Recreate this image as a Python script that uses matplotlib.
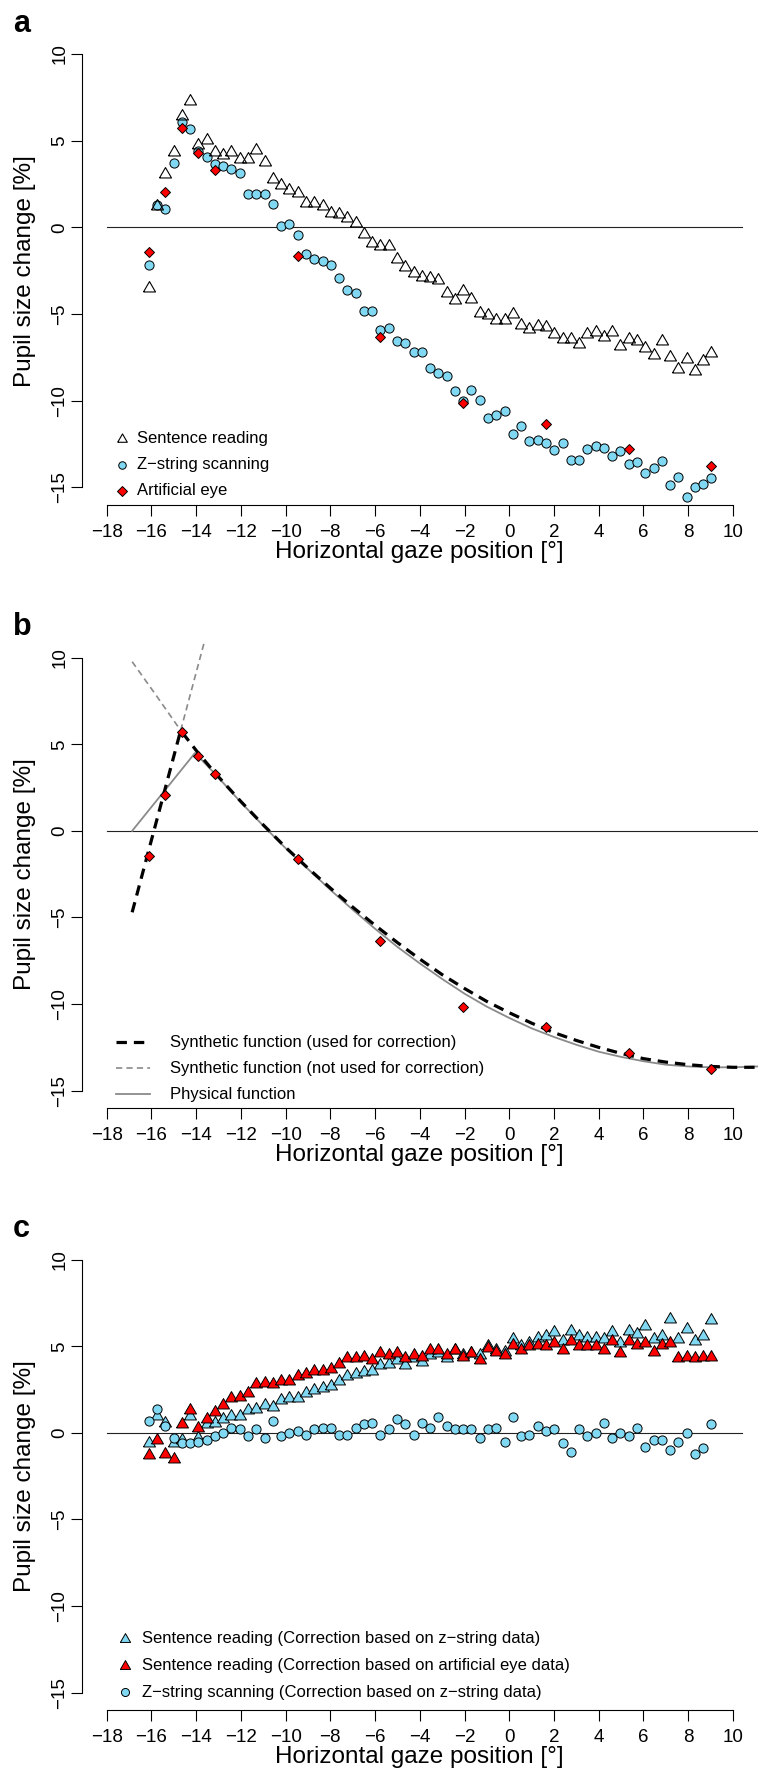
import numpy as np
import matplotlib.pyplot as plt
from matplotlib.lines import Line2D

plt.rcParams['font.family'] = ['Liberation Sans', 'DejaVu Sans']
plt.rcParams['lines.scale_dashes'] = False

W, H = 765, 1773
DPI = 100

# bin centres of horizontal gaze position [deg]
gaze = [-16.12, -15.75, -15.38, -15.01, -14.64, -14.27, -13.90, -13.53, -13.16, -12.79,
        -12.42, -12.05, -11.68, -11.31, -10.94, -10.57, -10.20, -9.83, -9.46, -9.09,
        -8.72, -8.35, -7.98, -7.61, -7.24, -6.87, -6.50, -6.13, -5.76, -5.39,
        -5.02, -4.65, -4.28, -3.91, -3.54, -3.17, -2.80, -2.43, -2.06, -1.69,
        -1.32, -0.95, -0.58, -0.21, 0.16, 0.53, 0.90, 1.27, 1.64, 2.01,
        2.38, 2.75, 3.12, 3.49, 3.86, 4.23, 4.60, 4.97, 5.34, 5.71,
        6.08, 6.45, 6.82, 7.19, 7.56, 7.93, 8.30, 8.67, 9.04]

# panel a: raw pupil size change [%]
sentence = [-3.52, 1.22, 3.09, 4.37, 6.40, 7.27, 4.74, 5.03, 4.37, 4.18,
            4.37, 3.93, 3.93, 4.45, 3.79, 2.77, 2.42, 2.13, 1.99, 1.41,
            1.43, 1.24, 0.85, 0.75, 0.56, 0.27, -0.41, -0.93, -1.08, -1.08,
            -1.80, -2.28, -2.63, -2.86, -2.92, -3.02, -3.79, -4.18, -3.68, -4.14,
            -4.95, -5.05, -5.34, -5.34, -5.00, -5.62, -5.88, -5.71, -5.78, -6.13,
            -6.42, -6.42, -6.71, -6.13, -6.03, -6.32, -6.03, -6.87, -6.42, -6.56,
            -6.94, -7.39, -6.56, -7.48, -8.16, -7.58, -8.30, -7.72, -7.25]
zstring = [-2.17, 1.28, 1.03, 3.73, 6.09, 5.67, 4.40, 4.06, 3.64, 3.54,
           3.35, 3.15, 1.90, 1.95, 1.93, 1.32, 0.10, 0.19, -0.43, -1.56,
           -1.82, -1.95, -2.15, -2.92, -3.64, -3.79, -4.85, -4.85, -5.92, -5.82,
           -6.56, -6.65, -7.21, -7.21, -8.14, -8.43, -8.59, -9.44, -10.00, -9.36,
           -9.94, -11.00, -10.83, -10.61, -11.90, -11.48, -12.31, -12.25, -12.45, -12.85,
           -12.42, -13.44, -13.44, -12.78, -12.64, -12.72, -13.19, -12.88, -13.67, -13.54,
           -14.20, -13.87, -13.48, -14.88, -14.41, -15.57, -14.97, -14.80, -14.49]
eye_x = [-16.12, -15.38, -14.64, -13.90, -13.16, -9.46, -5.76, -2.06, 1.64, 5.34, 9.04]
eye_y = [-1.45, 2.05, 5.71, 4.31, 3.29, -1.64, -6.34, -10.14, -11.33, -12.80, -13.77]

# panel b: fitted functions
steep_x = [-16.86, -14.69, -13.60]
steep_y = [-4.70, 5.80, 11.07]
decay_x = [-16.86, -15.80, -14.69, -14.00, -13.16, -12.00, -11.00, -10.00, -9.00, -8.00,
           -7.00, -6.00, -5.00, -4.00, -3.00, -2.00, -1.00, 0.00, 1.00, 2.00,
           3.00, 4.00, 5.00, 6.00, 7.00, 8.00, 9.00, 10.00, 11.12]
decay_y = [9.77, 7.85, 5.80, 4.65, 3.35, 1.70, 0.35, -0.95, -2.15, -3.30,
           -4.40, -5.45, -6.45, -7.40, -8.30, -9.10, -9.85, -10.50, -11.10, -11.65,
           -12.10, -12.50, -12.85, -13.15, -13.35, -13.50, -13.60, -13.65, -13.65]
phys_x = [-16.86, -14.05, -13.16, -12.00, -11.00, -10.00, -9.00, -8.00, -7.00, -6.00,
          -5.00, -4.00, -3.00, -2.00, -1.00, 0.00, 1.00, 2.00, 3.00, 4.00,
          5.00, 6.00, 7.00, 8.00, 9.00, 10.00, 11.12]
phys_y = [0.00, 4.50, 3.30, 1.65, 0.30, -1.00, -2.20, -3.40, -4.55, -5.65,
          -6.70, -7.65, -8.55, -9.40, -10.15, -10.80, -11.40, -11.90, -12.35, -12.75,
          -13.05, -13.30, -13.50, -13.60, -13.65, -13.65, -13.60]

# panel c: corrected pupil size change [%]
sr_zcorr = [-0.6, 1.0, 0.6, -0.6, -0.4, 1.0, -0.3, 0.5, 0.6, 0.8,
            1.0, 1.0, 1.3, 1.4, 1.6, 1.5, 1.9, 2.0, 2.0, 2.3,
            2.5, 2.6, 2.7, 3.0, 3.3, 3.4, 3.5, 3.6, 3.9, 4.0,
            4.2, 3.9, 4.3, 4.1, 4.5, 4.6, 4.3, 4.8, 4.5, 4.6,
            4.5, 5.0, 4.8, 4.7, 5.4, 5.0, 5.2, 5.5, 5.6, 5.8,
            5.3, 5.9, 5.6, 5.5, 5.5, 5.4, 5.8, 5.2, 5.9, 5.7,
            6.2, 5.4, 5.6, 6.6, 5.4, 6.0, 5.3, 5.6, 6.5]
sr_eyecorr = [-1.3, -0.4, -1.2, -1.5, 0.5, 1.3, 0.3, 0.8, 1.2, 1.6,
              2.0, 2.1, 2.3, 2.8, 2.9, 2.8, 3.0, 3.0, 3.3, 3.4,
              3.6, 3.6, 3.7, 4.0, 4.3, 4.3, 4.4, 4.2, 4.6, 4.5,
              4.6, 4.3, 4.5, 4.4, 4.8, 4.8, 4.5, 4.8, 4.4, 4.6,
              4.2, 4.9, 4.7, 4.5, 5.1, 4.8, 5.0, 5.1, 5.0, 5.2,
              4.8, 5.3, 5.0, 5.0, 5.0, 4.8, 5.3, 4.6, 5.3, 5.1,
              5.2, 4.7, 5.1, 5.2, 4.3, 4.4, 4.3, 4.4, 4.4]
zs_zcorr = [0.7, 1.4, 0.4, -0.3, -0.6, -0.6, -0.5, -0.4, -0.2, 0.0,
            0.3, 0.2, -0.2, 0.2, -0.3, 0.7, -0.2, 0.0, 0.1, -0.1,
            0.2, 0.3, 0.3, -0.1, -0.1, 0.3, 0.5, 0.6, -0.1, 0.2,
            0.8, 0.5, -0.1, 0.6, 0.3, 0.9, 0.4, 0.2, 0.2, 0.2,
            -0.3, 0.2, 0.3, -0.5, 0.9, -0.2, -0.1, 0.4, 0.1, 0.2,
            -0.6, -1.1, 0.2, -0.2, 0.0, 0.6, -0.3, 0.0, -0.2, 0.3,
            -0.8, -0.4, -0.4, -1.0, -0.5, 0.0, -1.2, -0.9, 0.5]

CYAN = '#80d8f2'
RED = '#ff0000'
GREY = '#8a8a8a'
TRI = [(-1, -0.577), (1, -0.577), (0, 1.155), (-1, -0.577)]
TRI_MS = 10.0
CIRC_MS = 6.6
DIAM_MS = 5.4

fig = plt.figure(figsize=(W / DPI, H / DPI), dpi=DPI)


def panel(top, bottom, left=81.6, right=758.0):
    ax = fig.add_axes([left / W, 1 - bottom / H, (right - left) / W, (bottom - top) / H])
    ax.set_xlim(-19.12, 11.12)
    ax.set_ylim(-16, 11)
    for s in ['top', 'right']:
        ax.spines[s].set_visible(False)
    ax.spines['bottom'].set_bounds(-18, 10)
    ax.spines['left'].set_bounds(-15, 10)
    for s in ['bottom', 'left']:
        ax.spines[s].set_linewidth(0.8)
    ax.set_xticks(np.arange(-18, 11, 2))
    ax.set_yticks(np.arange(-15, 11, 5))
    ax.tick_params(length=7.7, width=0.8, labelsize=13.5)
    ax.tick_params(axis='x', pad=6)
    ax.tick_params(axis='y', pad=2, labelrotation=90)
    for lab in ax.get_yticklabels():
        lab.set_va('center')
    ax.set_xlabel('Horizontal gaze position [°]', fontsize=17.5)
    ax.set_ylabel('Pupil size change [%]', fontsize=17.5)
    ax.xaxis.set_label_coords(0.5, -47 / (bottom - top))
    ax.xaxis.label.set_va('center')
    ax.yaxis.set_label_coords(-(left - 25) / (right - left), 0.5)
    ax.yaxis.label.set_va('center')
    return ax


def fy(py):
    return 1 - py / H


def legend_rows(rows, x_handle, x_text, y0, dy, fontsize=12):
    for k, (kw, label) in enumerate(rows):
        y = fy(y0 + k * dy)
        if 'xs' in kw:
            kw = dict(kw)
            xs = kw.pop('xs')
            fig.add_artist(Line2D([xs[0] / W, xs[1] / W], [y, y], transform=fig.transFigure, **kw))
        else:
            fig.add_artist(Line2D([x_handle / W], [y], transform=fig.transFigure, linestyle='none', **kw))
        fig.text(x_text / W, y, label, va='center', ha='left', fontsize=fontsize)


circ = dict(marker='o', ms=CIRC_MS, mfc=CYAN, mec='black', mew=0.7)
diam = dict(marker='D', ms=DIAM_MS, mfc=RED, mec='black', mew=0.7)
cyan_tri = dict(marker=TRI, ms=TRI_MS, mfc=CYAN, mec='black', mew=0.7)
red_tri = dict(marker=TRI, ms=TRI_MS, mfc=RED, mec='black', mew=0.7)

# ---- panel a
ax = panel(36.7, 504.6)
ax.plot([-18, 10.4], [0, 0], color='#222222', lw=0.8)
ax.plot(gaze, zstring, linestyle='none', **circ)
ax.plot(gaze, sentence, linestyle='none', marker=TRI, ms=TRI_MS, mfc='none', mec='black', mew=0.8)
ax.plot(eye_x, eye_y, linestyle='none', **diam)
legend_rows([(dict(marker=TRI, ms=8.0, mfc='none', mec='black', mew=0.8), 'Sentence reading'),
             (dict(marker='o', ms=5.4, mfc=CYAN, mec='black', mew=0.7), 'Z\u2212string scanning'),
             (dict(marker='D', ms=4.6, mfc=RED, mec='black', mew=0.7), 'Artificial eye')],
            122, 137, 439, 26)

# ---- panel b
ax = panel(640.4, 1108.0)
ax.plot([-18, 11.12], [0, 0], color='#222222', lw=0.8)
ax.plot(phys_x, phys_y, color=GREY, lw=1.3)
ax.plot(decay_x[:3], decay_y[:3], color=GREY, lw=1.2, dashes=(4.5, 3))
ax.plot(steep_x[1:], steep_y[1:], color=GREY, lw=1.2, dashes=(4.5, 3))
ax.plot(steep_x[:2] + decay_x[3:], steep_y[:2] + decay_y[3:], color='black', lw=2.3, dashes=(7.5, 5))
ax.plot(eye_x, eye_y, linestyle='none', **diam)
legend_rows([(dict(xs=(116, 150), color='black', lw=2.3, dashes=(7.5, 5)), 'Synthetic function (used for correction)'),
             (dict(xs=(116, 150), color=GREY, lw=1.2, dashes=(4.5, 3)), 'Synthetic function (not used for correction)'),
             (dict(xs=(116, 150), color=GREY, lw=1.3), 'Physical function')],
            0, 170, 1042, 26)

# ---- panel c
ax = panel(1242.4, 1710.0)
ax.plot([-18, 10.4], [0, 0], color='#222222', lw=0.8)
ax.plot(gaze, sr_zcorr, linestyle='none', **cyan_tri)
ax.plot(gaze, sr_eyecorr, linestyle='none', **red_tri)
ax.plot(gaze, zs_zcorr, linestyle='none', **circ)
legend_rows([(dict(marker=TRI, ms=8.5, mfc=CYAN, mec='black', mew=0.7), 'Sentence reading (Correction based on z\u2212string data)'),
             (dict(marker=TRI, ms=8.5, mfc=RED, mec='black', mew=0.7), 'Sentence reading (Correction based on artificial eye data)'),
             (dict(marker='o', ms=5.8, mfc=CYAN, mec='black', mew=0.7), 'Z\u2212string scanning (Correction based on z\u2212string data)')],
            125, 142, 1639, 26.5)

for letter, base in [('a', 32), ('b', 635), ('c', 1237)]:
    fig.text(13 / W, fy(base), letter, fontsize=22, fontweight='bold', va='baseline', ha='left')

fig.savefig('out.png', dpi=DPI)
